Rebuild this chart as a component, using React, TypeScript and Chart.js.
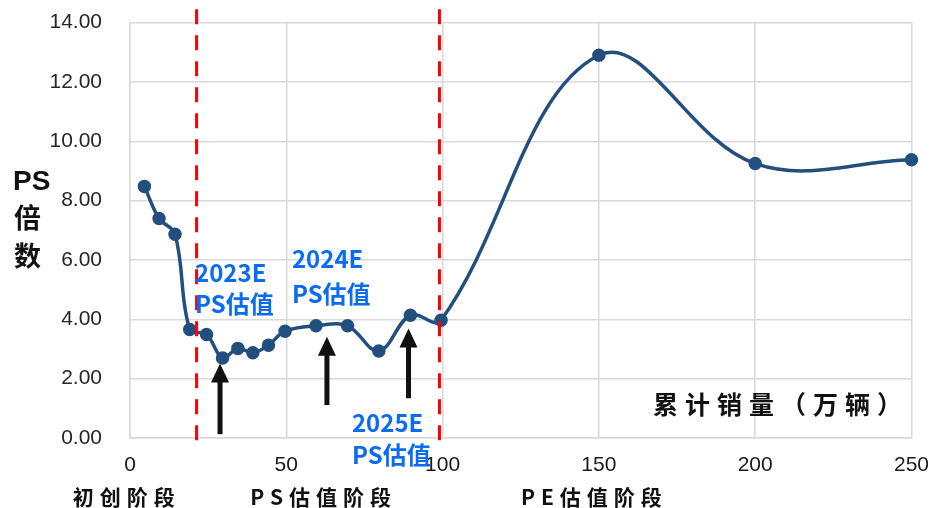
import React, { useEffect, useRef } from "react";
import { Chart, registerables } from "chart.js";

Chart.register(...registerables);

// ---- data ----
const salesVolume = [4.6, 9.3, 14.4, 19.1, 24.5, 29.6, 34.5, 39.3, 44.3, 49.6, 59.5, 69.6, 79.6, 89.7, 99.5, 150, 200, 250];
const psMultiple = [8.48, 7.4, 6.87, 3.66, 3.49, 2.7, 3.02, 2.87, 3.13, 3.6, 3.78, 3.78, 2.93, 4.14, 3.97, 12.9, 9.25, 9.38];
const stageDividers = [21.3, 99];
const stageLabels = ["初创阶段", "PS估值阶段", "PE估值阶段"];
const stageCenters = [-2, 61, 147.6];
const estimateLabels = ["2023E", "2024E", "2025E"];
const arrowX = [28.8, 63.0, 89.1];
const arrowTip = [2.51, 3.41, 3.69];
const arrowBase = [0.13, 1.11, 1.34];
const yAxisTitle = ["PS", "倍", "数"];
const xAxisTitle = "累计销量（万辆）";

// annotation placement (data coords): left x, baseline y of first and second line
const estimatePlacement = [
  { x: 20.8, y1: 5.26, y2: 4.2 },
  { x: 51.8, y1: 5.72, y2: 4.55 },
  { x: 71.0, y1: 0.21, y2: -0.88 },
];

// the canvas is slightly larger than the viewport so the plot area lands where the reference has it
const OFF_Y = 18;
const EXTRA_W = 12;

const CJK = '"Noto Sans CJK SC", "Noto Sans", sans-serif';

const overlayPlugin = {
  id: "overlay",
  afterDraw(chart: any) {
    const ctx = chart.ctx as CanvasRenderingContext2D;
    const xs = chart.scales.x;
    const ys = chart.scales.y;
    ctx.save();

    // red dashed dividers
    ctx.strokeStyle = "#ff0000";
    ctx.lineWidth = 3;
    ctx.setLineDash([15, 11]);
    stageDividers.forEach((v) => {
      const px = xs.getPixelForValue(v);
      ctx.beginPath();
      ctx.moveTo(px, ys.getPixelForValue(14.45));
      ctx.lineTo(px, ys.getPixelForValue(-0.27));
      ctx.stroke();
    });
    ctx.setLineDash([]);

    // arrows
    ctx.fillStyle = "#111111";
    arrowX.forEach((v, i) => {
      const px = xs.getPixelForValue(v);
      const tip = ys.getPixelForValue(arrowTip[i]);
      const base = ys.getPixelForValue(arrowBase[i]);
      const headLen = 19;
      ctx.fillRect(px - 2.5, tip + headLen - 1, 5, base - tip - headLen + 1);
      ctx.beginPath();
      ctx.moveTo(px, tip);
      ctx.lineTo(px - 9, tip + headLen);
      ctx.lineTo(px + 9, tip + headLen);
      ctx.closePath();
      ctx.fill();
    });

    // blue estimate labels
    ctx.fillStyle = "#0b6cf0";
    ctx.font = `bold 24px ${CJK}`;
    ctx.textAlign = "left";
    ctx.textBaseline = "alphabetic";
    estimateLabels.forEach((t, i) => {
      const p = estimatePlacement[i];
      const px = xs.getPixelForValue(p.x);
      ctx.fillText(t, px, ys.getPixelForValue(p.y1));
      ctx.fillText("PS估值", px, ys.getPixelForValue(p.y2));
    });

    // stage labels under the axis
    ctx.fillStyle = "#111111";
    ctx.font = `bold 21px ${CJK}`;
    (ctx as any).letterSpacing = "6px";
    ctx.textAlign = "left";
    stageLabels.forEach((t, i) => {
      const w = ctx.measureText(t).width - 6;
      const cx = xs.getPixelForValue(stageCenters[i]);
      ctx.fillText(t, cx - w / 2, 505 + OFF_Y);
    });

    // x axis title
    ctx.font = `bold 25px ${CJK}`;
    (ctx as any).letterSpacing = "7px";
    ctx.fillText(xAxisTitle, 653, 414 + OFF_Y);
    (ctx as any).letterSpacing = "0px";

    // y axis title
    ctx.font = `bold 28px "Liberation Sans Narrow", "Liberation Sans", sans-serif`;
    ctx.fillText(yAxisTitle[0], 13, 190 + OFF_Y);
    ctx.font = `bold 27px ${CJK}`;
    ctx.fillText(yAxisTitle[1], 14, 228 + OFF_Y);
    ctx.fillText(yAxisTitle[2], 14, 266 + OFF_Y);

    ctx.restore();
  },
};

export default function App() {
  const ref = useRef<HTMLCanvasElement>(null);
  useEffect(() => {
    if (!ref.current) return;
    const chart = new Chart(ref.current, {
      type: "line",
      data: {
        datasets: [
          {
            data: salesVolume.map((x, i) => ({ x, y: psMultiple[i] })),
            borderColor: "#234f7f",
            backgroundColor: "#234f7f",
            borderWidth: 3.5,
            pointRadius: 5,
            pointHoverRadius: 5,
            tension: 0.38,
            fill: false,
            clip: false,
          },
        ],
      },
      options: {
        animation: false,
        responsive: true,
        maintainAspectRatio: false,
        layout: { padding: { left: 0, right: 9, top: 4, bottom: 0 } },
        plugins: { legend: { display: false }, tooltip: { enabled: false } },
        scales: {
          x: {
            type: "linear",
            min: 0,
            max: 250,
            afterFit: (s: any) => {
              s.height = 70;
            },
            ticks: {
              stepSize: 50,
              padding: 15,
              color: "#1a1a1a",
              font: { family: '"Liberation Sans", Arial, sans-serif', size: 21 },
            },
            grid: { color: "#d9d9d9", lineWidth: 1.5, drawTicks: false },
            border: { color: "#d9d9d9", width: 1.5 },
          },
          y: {
            min: 0,
            max: 14,
            afterFit: (s: any) => {
              s.width = 130;
            },
            ticks: {
              stepSize: 2,
              padding: 28,
              color: "#262626",
              font: { family: '"Liberation Sans", Arial, sans-serif', size: 21 },
              callback: (v: any) => Number(v).toFixed(2),
            },
            grid: { color: "#d9d9d9", lineWidth: 1.5, drawTicks: false },
            border: { color: "#d9d9d9", width: 1.5 },
          },
        },
      },
      plugins: [overlayPlugin],
    });
    return () => chart.destroy();
  }, []);
  return (
    <div style={{ position: "fixed", left: 0, top: 0, width: 932, height: 508, background: "#fff", overflow: "hidden" }}>
      <div style={{ position: "absolute", left: 0, top: -OFF_Y, width: 932 + EXTRA_W, height: 508 + OFF_Y }}>
        <canvas ref={ref} />
      </div>
    </div>
  );
}
